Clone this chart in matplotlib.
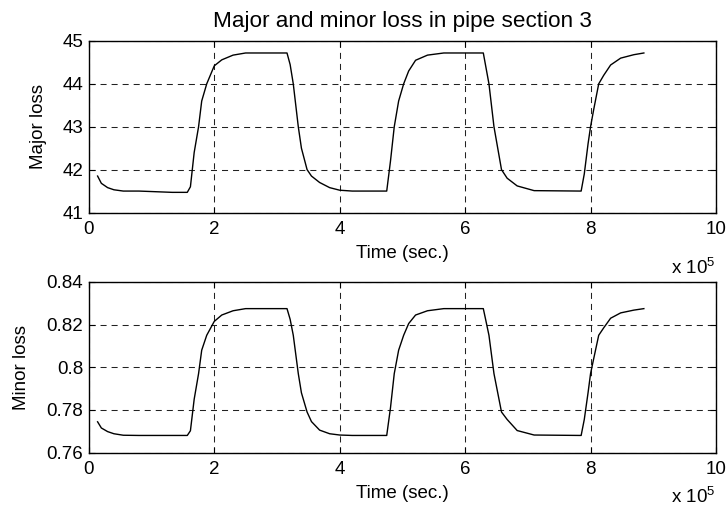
import numpy as np
import matplotlib.pyplot as plt

# time in units of 1e5 sec
t = [0.14, 0.2, 0.3, 0.4, 0.55, 0.8, 1.33, 1.57,
     1.62, 1.68, 1.75, 1.80, 1.88, 2.0, 2.12, 2.3, 2.5,
     3.16, 3.21, 3.26, 3.34, 3.39, 3.48, 3.55, 3.68, 3.84, 4.0, 4.2,
     4.75, 4.81, 4.87, 4.94, 5.02, 5.10, 5.21, 5.40, 5.66,
     6.29, 6.33, 6.38, 6.46, 6.58, 6.67, 6.83, 7.10,
     7.85, 7.90, 7.96, 8.0, 8.05, 8.13, 8.21, 8.32, 8.48, 8.69, 8.85]

major = [41.85, 41.68, 41.58, 41.53, 41.5, 41.5, 41.47, 41.47,
         41.6, 42.4, 43.0, 43.6, 44.0, 44.42, 44.56, 44.67, 44.72,
         44.72, 44.45, 44.0, 43.0, 42.5, 42.0, 41.85, 41.7, 41.58, 41.52, 41.5,
         41.5, 42.2, 43.0, 43.6, 44.0, 44.3, 44.55, 44.67, 44.72,
         44.72, 44.4, 44.0, 43.0, 42.0, 41.8, 41.62, 41.51,
         41.5, 41.9, 42.6, 43.0, 43.4, 44.0, 44.2, 44.44, 44.6, 44.68, 44.72]

minor = [0.7744, 0.7715, 0.7698, 0.7688, 0.7681, 0.7680, 0.7680, 0.7680,
         0.7702, 0.785, 0.797, 0.808, 0.815, 0.8215, 0.8245, 0.8265, 0.8275,
         0.8275, 0.8225, 0.815, 0.797, 0.788, 0.779, 0.7745, 0.7705, 0.7688, 0.7682, 0.7680,
         0.7680, 0.781, 0.797, 0.808, 0.815, 0.8205, 0.8245, 0.8265, 0.8275,
         0.8275, 0.822, 0.815, 0.797, 0.779, 0.7755, 0.7703, 0.7682,
         0.7680, 0.7755, 0.788, 0.797, 0.804, 0.815, 0.8185, 0.823, 0.8255, 0.8268, 0.8275]

plt.rcParams['font.family'] = ['Liberation Sans', 'DejaVu Sans']
plt.rcParams['font.size'] = 13.5
plt.rcParams['mathtext.fontset'] = 'custom'
plt.rcParams['mathtext.rm'] = 'Liberation Sans'

fig = plt.figure(figsize=(7.28, 5.09), dpi=100)
ax1 = fig.add_axes([0.122, 0.5825, 0.8615, 0.337])
ax2 = fig.add_axes([0.122, 0.111, 0.8615, 0.335])

def style(ax, ylim, yticks, ylabel, ylabelx):
    ax.set_xlim(0, 10)
    ax.set_ylim(*ylim)
    ax.set_xticks([0, 2, 4, 6, 8, 10])
    ax.set_yticks(yticks)
    ax.grid(True, color='#222222', linestyle=(0, (5.8, 4.8)), linewidth=0.75)
    ax.tick_params(direction='in', length=4, width=0.8, top=True, right=True)
    ax.tick_params(axis='x', pad=6)
    ax.tick_params(axis='y', pad=4)
    for s in ax.spines.values():
        s.set_linewidth(1.0)
    ax.set_xlabel('Time (sec.)', labelpad=5)
    ax.set_ylabel(ylabel)
    ax.yaxis.set_label_coords(ylabelx, 0.5)

ax1.plot(t, major, color='black', linewidth=1.0)
style(ax1, (41, 45), [41, 42, 43, 44, 45], 'Major loss', -0.066)
ax1.set_title('Major and minor loss in pipe section 3', pad=10)
fig.text(715 / 728, 1 - 274 / 509, r'x 10$^5$', ha='right', va='baseline')

ax2.plot(t, minor, color='black', linewidth=1.0)
style(ax2, (0.76, 0.84), [0.76, 0.78, 0.8, 0.82, 0.84], 'Minor loss', -0.093)
ax2.set_yticklabels(['0.76', '0.78', '0.8', '0.82', '0.84'])
fig.text(715 / 728, 1 - 503 / 509, r'x 10$^5$', ha='right', va='baseline')

fig.savefig('out.png', dpi=100)
